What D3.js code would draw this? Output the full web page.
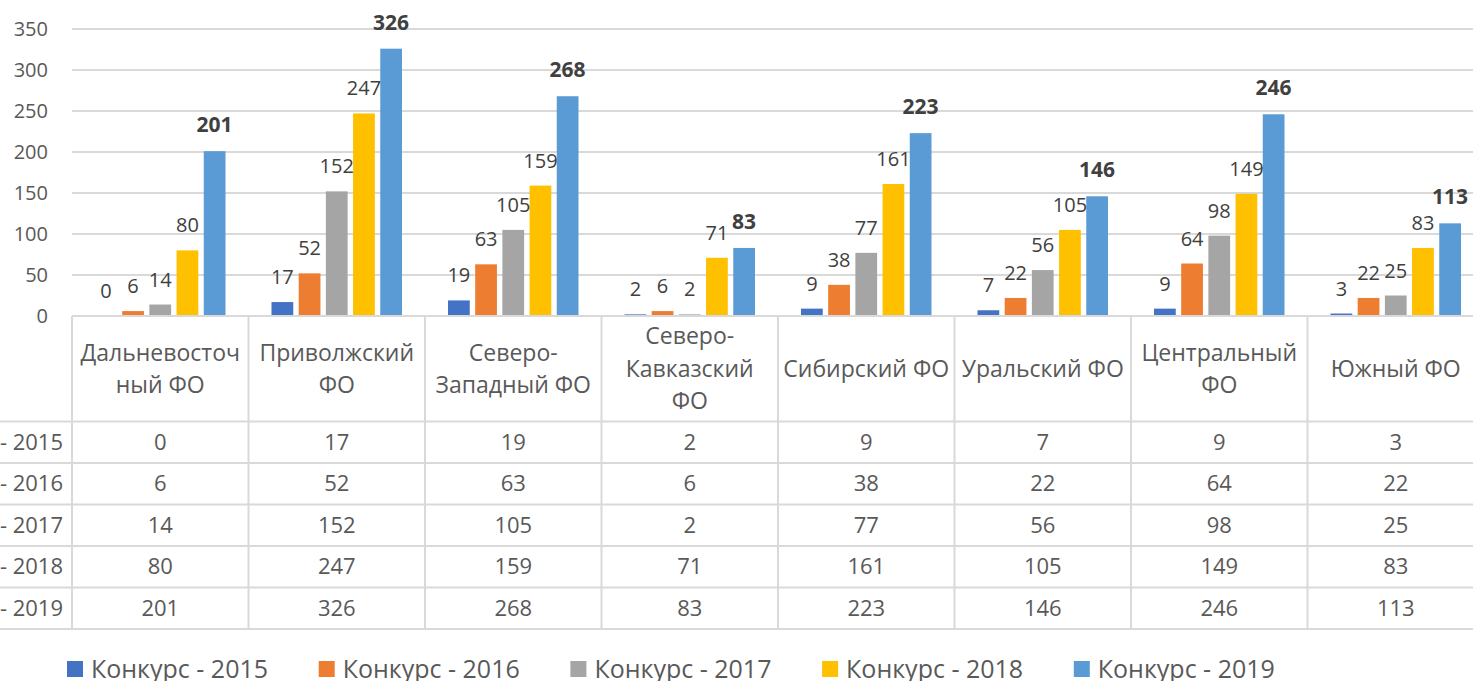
<!DOCTYPE html>
<html>
<head>
<meta charset="utf-8">
<script src="https://cdn.jsdelivr.net/npm/d3@7"></script>
<style>
  body { margin: 0; background: #fff; }
  svg { display: block; font-family: "Open Sans", "Noto Sans", sans-serif; }
</style>
</head>
<body>
<div id="chart"></div>
<script>
// data
var categories = ["Дальневосточный ФО", "Приволжский ФО", "Северо-Западный ФО", "Северо-Кавказский ФО",
                  "Сибирский ФО", "Уральский ФО", "Центральный ФО", "Южный ФО"];
// how the table header wraps each category name
var categoryLines = [["Дальневосточ", "ный ФО"], ["Приволжский", "ФО"], ["Северо-", "Западный ФО"],
                     ["Северо-", "Кавказский", "ФО"], ["Сибирский ФО"], ["Уральский ФО"],
                     ["Центральный", "ФО"], ["Южный ФО"]];
var series = ["Конкурс - 2015", "Конкурс - 2016", "Конкурс - 2017", "Конкурс - 2018", "Конкурс - 2019"];
var v2015 = [0, 17, 19, 2, 9, 7, 9, 3];
var v2016 = [6, 52, 63, 6, 38, 22, 64, 22];
var v2017 = [14, 152, 105, 2, 77, 56, 98, 25];
var v2018 = [80, 247, 159, 71, 161, 105, 149, 83];
var v2019 = [201, 326, 268, 83, 223, 146, 246, 113];
var values = [v2015, v2016, v2017, v2018, v2019];
var yTicks = [0, 50, 100, 150, 200, 250, 300, 350];
var colors = ["#4472C4", "#ED7D31", "#A5A5A5", "#FFC000", "#5B9BD5"];

var W = 1473, H = 681;
var left = 72, catW = 176.5;
var yTop = 29, yBase = 316;
var headerBottom = 421.5, rowH = 41.5;
var lineColor = "#D9D9D9";

var svg = d3.select("#chart").append("svg")
    .attr("width", W)
    .attr("height", H);

// scales
var x0 = d3.scaleBand()
    .domain(categories)
    .range([left, left + catW * categories.length]);
var x1 = d3.scaleBand()
    .domain(series)
    .range([23, catW - 23])
    .paddingInner(0.2);
var y = d3.scaleLinear().domain([0, 350]).range([yBase, yTop]);

// gridlines
svg.append("g").selectAll("line")
    .data(yTicks.filter(function(d) { return d > 0; }))
  .enter().append("line")
    .attr("x1", left).attr("x2", W)
    .attr("y1", function(d) { return y(d); })
    .attr("y2", function(d) { return y(d); })
    .attr("stroke", lineColor)
    .attr("stroke-width", 2);

// y axis labels
var yAxis = d3.axisLeft(y).tickValues(yTicks).tickSize(0).tickPadding(0);
var yg = svg.append("g")
    .attr("transform", "translate(48,0)")
    .call(yAxis);
yg.select(".domain").remove();
yg.selectAll("text")
    .attr("fill", "#595959")
    .style("font-size", "20px")
    .style("font-family", "'Open Sans', sans-serif");

// bars
var groups = svg.append("g").selectAll("g")
    .data(categories)
  .enter().append("g")
    .attr("transform", function(d) { return "translate(" + x0(d) + ",0)"; });

groups.selectAll("rect")
    .data(function(d, ci) { return series.map(function(s, si) { return {s: s, si: si, v: values[si][ci]}; }); })
  .enter().append("rect")
    .attr("x", function(d) { return x1(d.s); })
    .attr("width", x1.bandwidth())
    .attr("y", function(d) { return y(d.v); })
    .attr("height", function(d) { return yBase - y(d.v); })
    .attr("fill", function(d) { return colors[d.si]; });

// value labels
groups.selectAll("text")
    .data(function(d, ci) { return series.map(function(s, si) { return {s: s, si: si, v: values[si][ci]}; }); })
  .enter().append("text")
    .attr("x", function(d) { return x1(d.s) + x1.bandwidth() / 2; })
    .attr("y", function(d) { return y(d.v) - (d.si == 4 ? 19 : 18); })
    .attr("text-anchor", "middle")
    .attr("fill", "#404040")
    .style("font-size", function(d) { return d.si == 4 ? "21px" : "20px"; })
    .style("font-weight", function(d) { return d.si == 4 ? "bold" : "normal"; })
    .text(function(d) { return d.v; });

// data table: lines
var tableBottom = headerBottom + rowH * series.length;
svg.append("line")
    .attr("x1", left).attr("x2", W)
    .attr("y1", yBase).attr("y2", yBase)
    .attr("stroke", lineColor).attr("stroke-width", 2);

svg.append("g").selectAll("line")
    .data(d3.range(series.length + 1))
  .enter().append("line")
    .attr("x1", 0).attr("x2", W)
    .attr("y1", function(i) { return headerBottom + i * rowH; })
    .attr("y2", function(i) { return headerBottom + i * rowH; })
    .attr("stroke", lineColor).attr("stroke-width", 2);

svg.append("g").selectAll("line")
    .data(categories)
  .enter().append("line")
    .attr("x1", function(d) { return x0(d); })
    .attr("x2", function(d) { return x0(d); })
    .attr("y1", yBase).attr("y2", tableBottom)
    .attr("stroke", lineColor).attr("stroke-width", 2);

// header cells
var headerMid = (yBase + headerBottom) / 2;
var lineGap = 32.5;
svg.append("g").selectAll("text")
    .data(categories)
  .enter().append("text")
    .attr("text-anchor", "middle")
    .attr("fill", "#595959")
    .style("font-size", "23px")
    .each(function(d, i) {
      var lines = categoryLines[i];
      var t = d3.select(this);
      lines.forEach(function(l, li) {
        t.append("tspan")
          .attr("x", x0(d) + catW / 2)
          .attr("y", headerMid + (li - (lines.length - 1) / 2) * lineGap)
          .attr("dy", "0.35em")
          .text(l);
      });
    });

// row labels (clipped at the left edge, as in the source)
svg.append("g").selectAll("text")
    .data(series)
  .enter().append("text")
    .attr("x", 63)
    .attr("y", function(d, i) { return headerBottom + (i + 0.5) * rowH; })
    .attr("dy", "0.35em")
    .attr("text-anchor", "end")
    .attr("fill", "#595959")
    .style("font-size", "22px")
    .text(function(d) { return d; });

// table values
series.forEach(function(s, si) {
  svg.append("g").selectAll("text")
      .data(categories)
    .enter().append("text")
      .attr("x", function(d) { return x0(d) + catW / 2; })
      .attr("y", headerBottom + (si + 0.5) * rowH)
      .attr("dy", "0.35em")
      .attr("text-anchor", "middle")
      .attr("fill", "#595959")
      .style("font-size", "22px")
      .text(function(d, ci) { return values[si][ci]; });
});

// legend
var legend = svg.append("g").selectAll("g")
    .data(series)
  .enter().append("g")
    .attr("transform", function(d, i) { return "translate(" + (67 + i * 251.7) + ",661)"; });

legend.append("rect")
    .attr("width", 16)
    .attr("height", 16)
    .attr("fill", function(d, i) { return colors[i]; });

legend.append("text")
    .attr("x", 24)
    .attr("y", 8)
    .attr("dy", "0.35em")
    .attr("fill", "#595959")
    .style("font-size", "25px")
    .text(function(d) { return d; });
</script>
</body>
</html>
